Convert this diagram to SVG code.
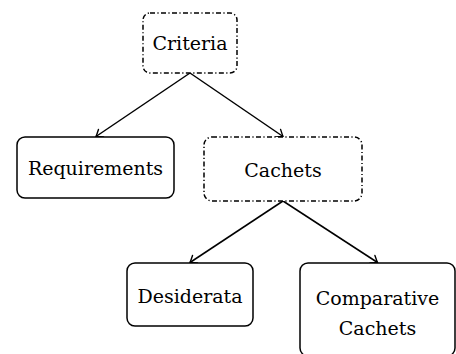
<svg xmlns="http://www.w3.org/2000/svg" width="456" height="354" viewBox="0 0 456 354">
  <style>
    .box { fill: #fff; stroke: #000; stroke-width: 1.5; }
    .dd { stroke-dasharray: 5 2.4 1.2 2.4; }
    .lbl { font-family: "DejaVu Serif", "Liberation Serif", serif; font-size: 19px; fill: #000; text-anchor: middle; }
    .edge { fill: none; stroke: #000; stroke-width: 1.5; marker-end: url(#tip); }
  </style>
  <defs>
    <marker id="tip" markerUnits="userSpaceOnUse" viewBox="-7 -6 9 12" refX="0" refY="0" markerWidth="9" markerHeight="12" orient="auto" overflow="visible">
      <path d="M -6 -4.5 Q -1.8 -1.2 0 0 Q -1.8 1.2 -6 4.5" fill="none" stroke="#000" stroke-width="1.4" stroke-linecap="round"/>
    </marker>
  </defs>

  <g id="edges">
    <line class="edge" x1="190" y1="73" x2="96" y2="136.5"/>
    <line class="edge" x1="190" y1="73" x2="283" y2="136.5"/>
    <line class="edge" x1="283" y1="201" x2="190" y2="262.5"/>
    <line class="edge" x1="283" y1="201" x2="377.5" y2="262.5"/>
  </g>

  <g id="criteria">
    <rect class="box dd" x="143" y="13" width="94" height="60" rx="7"/>
    <text class="lbl" x="190" y="49.5">Criteria</text>
  </g>

  <g id="requirements">
    <rect class="box" x="17" y="137" width="157" height="61" rx="8"/>
    <text class="lbl" x="95.5" y="175">Requirements</text>
  </g>

  <g id="cachets">
    <rect class="box dd" x="204" y="137" width="158" height="64" rx="8"/>
    <text class="lbl" x="283" y="177">Cachets</text>
  </g>

  <g id="desiderata">
    <rect class="box" x="127" y="263" width="126" height="63" rx="8"/>
    <text class="lbl" x="190" y="303">Desiderata</text>
  </g>

  <g id="comparative-cachets">
    <rect class="box" x="300" y="263" width="155" height="93" rx="8"/>
    <text class="lbl" x="377.5" y="305">Comparative</text>
    <text class="lbl" x="377.5" y="335">Cachets</text>
  </g>
</svg>
